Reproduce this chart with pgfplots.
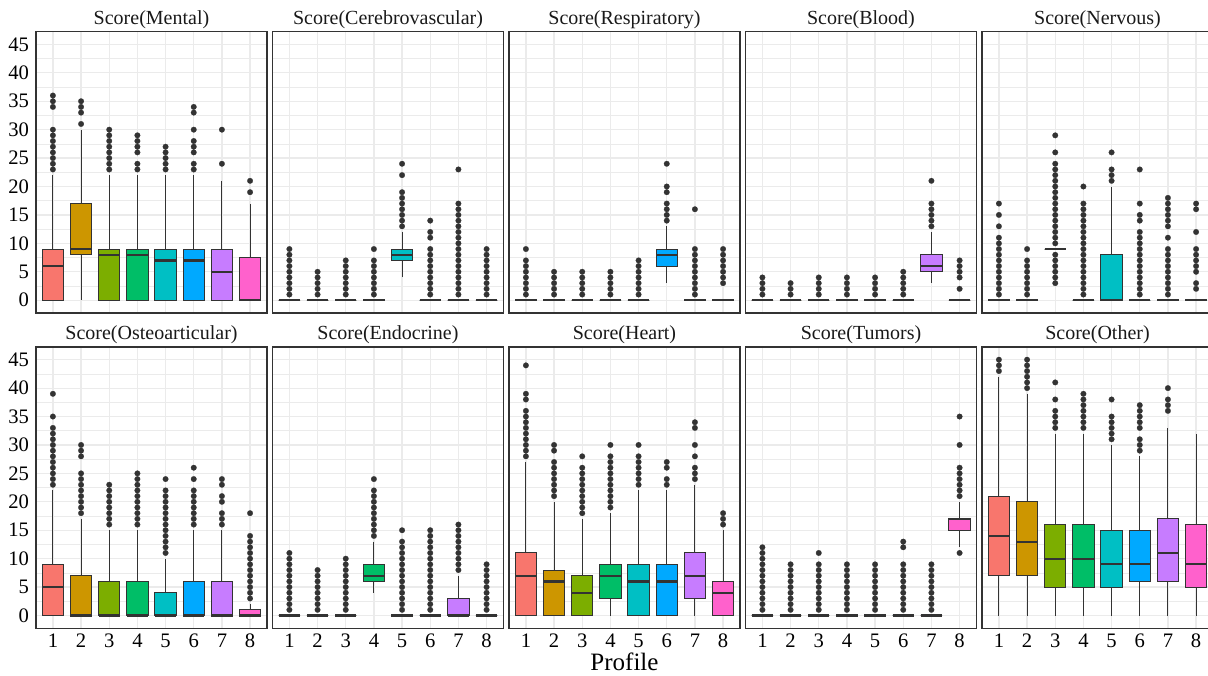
\documentclass[border=0pt]{standalone}
\usepackage{fontspec}
\setmainfont{Liberation Serif}
\usepackage{pgfplots}
\pgfplotsset{compat=1.18}
\usepgfplotslibrary{statistics}
\definecolor{c1}{HTML}{F8766D}
\definecolor{c2}{HTML}{CD9600}
\definecolor{c3}{HTML}{7CAE00}
\definecolor{c4}{HTML}{00BE67}
\definecolor{c5}{HTML}{00BFC4}
\definecolor{c6}{HTML}{00A9FF}
\definecolor{c7}{HTML}{C77CFF}
\definecolor{c8}{HTML}{FF61CC}
\definecolor{gridc}{HTML}{EBEBEB}
\definecolor{boxc}{HTML}{333333}
\newcommand{\bx}[8]{\addplot[boxplot prepared={draw position=#1, lower whisker=#3, lower quartile=#4, median=#5, upper quartile=#6, upper whisker=#7}, fill=#2, draw=boxc, line width=0.5pt, mark=*, mark size=1.4pt, mark options={fill=boxc, draw=boxc, line width=0.1pt}] table[row sep=\\, y index=0]{y\\#8};}
\newcommand{\bxn}[7]{\addplot[boxplot prepared={draw position=#1, lower whisker=#3, lower quartile=#4, median=#5, upper quartile=#6, upper whisker=#7}, fill=#2, draw=boxc, line width=0.5pt] coordinates {};}
\pgfplotsset{
  panel/.style={
    scale only axis, width=115.5pt, height=140.7pt,
    xmin=0.4, xmax=8.6, ymin=-2.25, ymax=47.25,
    xtick={1,...,8}, ytick={0,5,...,45}, minor ytick={2.5,7.5,...,42.5},
    xmajorgrids, ymajorgrids, yminorgrids,
    major grid style={gridc, line width=0.6pt},
    minor grid style={gridc, line width=0.3pt},
    tick style={draw=none},
    axis line style={boxc, line width=0.6pt},
    xticklabels={}, yticklabels={},
    ticklabel style={font=\fontsize{10.3}{12}\selectfont, text=black},
    xticklabel style={yshift=0.8pt},
    title style={at={(0.5,1)}, anchor=base, yshift=-2.5pt, font=\fontsize{10}{12}\selectfont, text=black!90},
    boxplot/draw direction=y,
    boxplot/box extend=0.76, boxplot/whisker extend=0,
    boxplot/every median/.style={line width=1.1pt, draw=boxc},
    boxplot/every whisker/.style={line width=0.5pt, draw=boxc},
    boxplot/every box/.style={line width=0.5pt, draw=boxc},
  },
  ylab/.style={yticklabels={0,5,10,15,20,25,30,35,40,45}},
  xlab/.style={xticklabels={1,2,3,4,5,6,7,8}},
}
\begin{document}
\begin{tikzpicture}
\path[use as bounding box] (0,0) rectangle (604pt,337.5pt);
% ---------------- top row ----------------
\begin{axis}[panel, ylab, at={(18pt,181pt)}, anchor=south west, title={Score(Mental)}]
\bx{1}{c1}{0}{0}{6}{9}{22}{23\\24\\25\\26\\27\\28\\29\\30\\34\\35\\36\\}
\bx{2}{c2}{0}{8}{9}{17}{30}{31\\33\\34\\35\\}
\bx{3}{c3}{0}{0}{8}{9}{22}{23\\24\\25\\26\\27\\28\\29\\30\\}
\bx{4}{c4}{0}{0}{8}{9}{22}{23\\24\\26\\27\\28\\29\\}
\bx{5}{c5}{0}{0}{7}{9}{22}{23\\24\\25\\26\\27\\}
\bx{6}{c6}{0}{0}{7}{9}{22}{23\\24\\26\\27\\28\\30\\33\\34\\}
\bx{7}{c7}{0}{0}{5}{9}{21}{24\\30\\}
\bx{8}{c8}{0}{0}{0}{7.5}{17}{19\\21\\}
\end{axis}
\begin{axis}[panel, at={(136.25pt,181pt)}, anchor=south west, title={Score(Cerebrovascular)}]
\bx{1}{c1}{0}{0}{0}{0}{0}{1\\2\\3\\4\\5\\6\\7\\8\\9\\}
\bx{2}{c2}{0}{0}{0}{0}{0}{1\\2\\3\\4\\5\\}
\bx{3}{c3}{0}{0}{0}{0}{0}{1\\2\\3\\4\\5\\6\\7\\}
\bx{4}{c4}{0}{0}{0}{0}{0}{1\\2\\3\\4\\5\\6\\7\\9\\}
\bx{5}{c5}{4}{7}{8}{9}{12}{13\\14\\15\\16\\17\\18\\19\\22\\24\\}
\bx{6}{c6}{0}{0}{0}{0}{0}{1\\2\\3\\4\\5\\6\\7\\8\\9\\11\\12\\14\\}
\bx{7}{c7}{0}{0}{0}{0}{0}{1\\2\\3\\4\\5\\6\\7\\8\\9\\10\\11\\12\\13\\14\\15\\16\\17\\23\\}
\bx{8}{c8}{0}{0}{0}{0}{0}{1\\2\\3\\4\\5\\6\\7\\8\\9\\}
\end{axis}
\begin{axis}[panel, at={(254.5pt,181pt)}, anchor=south west, title={Score(Respiratory)}]
\bx{1}{c1}{0}{0}{0}{0}{0}{1\\2\\3\\4\\5\\6\\7\\9\\}
\bx{2}{c2}{0}{0}{0}{0}{0}{1\\2\\3\\4\\5\\}
\bx{3}{c3}{0}{0}{0}{0}{0}{1\\2\\3\\4\\5\\}
\bx{4}{c4}{0}{0}{0}{0}{0}{1\\2\\3\\4\\5\\}
\bx{5}{c5}{0}{0}{0}{0}{0}{1\\2\\3\\4\\5\\6\\7\\}
\bx{6}{c6}{3}{6}{8}{9}{13}{14\\15\\16\\17\\19\\20\\24\\}
\bx{7}{c7}{0}{0}{0}{0}{0}{1\\2\\3\\4\\5\\6\\7\\8\\9\\16\\}
\bx{8}{c8}{0}{0}{0}{0}{0}{3\\4\\5\\6\\7\\8\\9\\}
\end{axis}
\begin{axis}[panel, at={(372.75pt,181pt)}, anchor=south west, title={Score(Blood)}]
\bx{1}{c1}{0}{0}{0}{0}{0}{1\\2\\3\\4\\}
\bx{2}{c2}{0}{0}{0}{0}{0}{1\\2\\3\\}
\bx{3}{c3}{0}{0}{0}{0}{0}{1\\2\\3\\4\\}
\bx{4}{c4}{0}{0}{0}{0}{0}{1\\2\\3\\4\\}
\bx{5}{c5}{0}{0}{0}{0}{0}{1\\2\\3\\4\\}
\bx{6}{c6}{0}{0}{0}{0}{0}{1\\2\\3\\4\\5\\}
\bx{7}{c7}{3}{5}{6}{8}{12}{13\\14\\15\\16\\17\\21\\}
\bx{8}{c8}{0}{0}{0}{0}{0}{2\\4\\5\\6\\7\\}
\end{axis}
\begin{axis}[panel, at={(491pt,181pt)}, anchor=south west, title={Score(Nervous)}]
\bx{1}{c1}{0}{0}{0}{0}{0}{1\\2\\3\\4\\5\\6\\7\\8\\9\\10\\11\\13\\15\\17\\}
\bx{2}{c2}{0}{0}{0}{0}{0}{1\\2\\3\\4\\5\\6\\7\\9\\}
\bx{3}{c3}{9}{9}{9}{9}{9}{3\\4\\5\\6\\7\\8\\10\\11\\12\\13\\14\\15\\16\\17\\18\\19\\20\\21\\22\\23\\24\\26\\29\\}
\bx{4}{c4}{0}{0}{0}{0}{0}{1\\2\\3\\4\\5\\6\\7\\8\\9\\10\\11\\12\\13\\14\\15\\16\\17\\20\\}
\bx{5}{c5}{0}{0}{0}{8}{20}{21\\22\\23\\26\\}
\bx{6}{c6}{0}{0}{0}{0}{0}{1\\2\\3\\4\\5\\6\\7\\8\\9\\10\\11\\12\\14\\15\\17\\23\\}
\bx{7}{c7}{0}{0}{0}{0}{0}{1\\2\\3\\4\\5\\6\\7\\8\\9\\11\\13\\14\\15\\16\\17\\18\\}
\bx{8}{c8}{0}{0}{0}{0}{0}{2\\3\\5\\6\\7\\8\\9\\12\\16\\17\\}
\end{axis}
% ---------------- bottom row ----------------
\begin{axis}[panel, ylab, xlab, at={(18pt,23.35pt)}, anchor=south west, title={Score(Osteoarticular)}]
\bx{1}{c1}{0}{0}{5}{9}{22}{23\\24\\25\\26\\27\\28\\29\\30\\31\\32\\33\\35\\39\\}
\bx{2}{c2}{0}{0}{0}{7}{17}{18\\19\\20\\21\\22\\23\\24\\25\\28\\29\\30\\}
\bx{3}{c3}{0}{0}{0}{6}{15}{16\\17\\18\\19\\20\\21\\22\\23\\}
\bx{4}{c4}{0}{0}{0}{6}{15}{16\\17\\18\\19\\20\\21\\22\\23\\24\\25\\}
\bx{5}{c5}{0}{0}{0}{4}{10}{11\\12\\13\\14\\15\\16\\17\\18\\19\\20\\21\\22\\24\\}
\bx{6}{c6}{0}{0}{0}{6}{15}{16\\17\\18\\19\\20\\21\\22\\24\\26\\}
\bx{7}{c7}{0}{0}{0}{6}{15}{16\\17\\18\\20\\21\\23\\24\\}
\bx{8}{c8}{0}{0}{0}{1}{2}{3\\4\\5\\6\\7\\8\\9\\10\\11\\12\\13\\14\\18\\}
\end{axis}
\begin{axis}[panel, xlab, at={(136.25pt,23.35pt)}, anchor=south west, title={Score(Endocrine)}]
\bx{1}{c1}{0}{0}{0}{0}{0}{1\\2\\3\\4\\5\\6\\7\\8\\9\\10\\11\\}
\bx{2}{c2}{0}{0}{0}{0}{0}{1\\2\\3\\4\\5\\6\\7\\8\\}
\bx{3}{c3}{0}{0}{0}{0}{0}{1\\2\\3\\4\\5\\6\\7\\8\\9\\10\\}
\bx{4}{c4}{4}{6}{7}{9}{13}{14\\15\\16\\17\\18\\19\\20\\21\\22\\24\\}
\bx{5}{c5}{0}{0}{0}{0}{0}{1\\2\\3\\4\\5\\6\\7\\8\\9\\10\\11\\12\\13\\15\\}
\bx{6}{c6}{0}{0}{0}{0}{0}{1\\2\\3\\4\\5\\6\\7\\8\\9\\10\\11\\12\\13\\14\\15\\}
\bx{7}{c7}{0}{0}{0}{3}{7}{8\\9\\10\\11\\12\\13\\14\\15\\16\\}
\bx{8}{c8}{0}{0}{0}{0}{0}{1\\2\\3\\4\\5\\6\\7\\8\\9\\}
\end{axis}
\begin{axis}[panel, xlab, at={(254.5pt,23.35pt)}, anchor=south west, title={Score(Heart)}]
\bx{1}{c1}{0}{0}{7}{11}{27}{28\\29\\30\\31\\32\\33\\34\\35\\36\\38\\39\\44\\}
\bx{2}{c2}{0}{0}{6}{8}{20}{21\\22\\23\\24\\25\\26\\27\\29\\30\\}
\bx{3}{c3}{0}{0}{4}{7}{17}{18\\19\\20\\21\\22\\23\\24\\25\\26\\28\\}
\bx{4}{c4}{0}{3}{7}{9}{18}{19\\20\\21\\22\\23\\24\\25\\26\\27\\28\\30\\}
\bx{5}{c5}{0}{0}{6}{9}{22}{23\\24\\25\\26\\27\\28\\30\\}
\bx{6}{c6}{0}{0}{6}{9}{22}{23\\24\\26\\27\\}
\bx{7}{c7}{0}{3}{7}{11}{23}{24\\25\\26\\28\\30\\33\\34\\}
\bx{8}{c8}{0}{0}{4}{6}{15}{16\\17\\18\\}
\end{axis}
\begin{axis}[panel, xlab, at={(372.75pt,23.35pt)}, anchor=south west, title={Score(Tumors)}]
\bx{1}{c1}{0}{0}{0}{0}{0}{1\\2\\3\\4\\5\\6\\7\\8\\9\\10\\11\\12\\}
\bx{2}{c2}{0}{0}{0}{0}{0}{1\\2\\3\\4\\5\\6\\7\\8\\9\\}
\bx{3}{c3}{0}{0}{0}{0}{0}{1\\2\\3\\4\\5\\6\\7\\8\\9\\11\\}
\bx{4}{c4}{0}{0}{0}{0}{0}{1\\2\\3\\4\\5\\6\\7\\8\\9\\}
\bx{5}{c5}{0}{0}{0}{0}{0}{1\\2\\3\\4\\5\\6\\7\\8\\9\\}
\bx{6}{c6}{0}{0}{0}{0}{0}{1\\2\\3\\4\\5\\6\\7\\8\\9\\12\\13\\}
\bx{7}{c7}{0}{0}{0}{0}{0}{1\\2\\3\\4\\5\\6\\7\\8\\9\\}
\bx{8}{c8}{12}{15}{17}{17}{20}{11\\21\\22\\23\\24\\25\\26\\30\\35\\}
\end{axis}
\begin{axis}[panel, xlab, at={(491pt,23.35pt)}, anchor=south west, title={Score(Other)}]
\bx{1}{c1}{0}{7}{14}{21}{42}{43\\44\\45\\}
\bx{2}{c2}{0}{7}{13}{20}{39}{40\\41\\42\\43\\44\\45\\}
\bx{3}{c3}{0}{5}{10}{16}{32}{33\\34\\35\\36\\38\\41\\}
\bx{4}{c4}{0}{5}{10}{16}{32}{33\\34\\35\\36\\37\\38\\39\\}
\bx{5}{c5}{0}{5}{9}{15}{30}{31\\32\\33\\34\\35\\38\\}
\bx{6}{c6}{0}{6}{9}{15}{28}{29\\30\\31\\33\\34\\35\\36\\37\\}
\bx{7}{c7}{0}{6}{11}{17}{33}{36\\37\\38\\40\\}
\bxn{8}{c8}{0}{5}{9}{16}{32}
\end{axis}
\node[anchor=base, font=\fontsize{12.5}{15}\selectfont] at (312.25pt,2.2pt) {Profile};
\end{tikzpicture}
\end{document}
